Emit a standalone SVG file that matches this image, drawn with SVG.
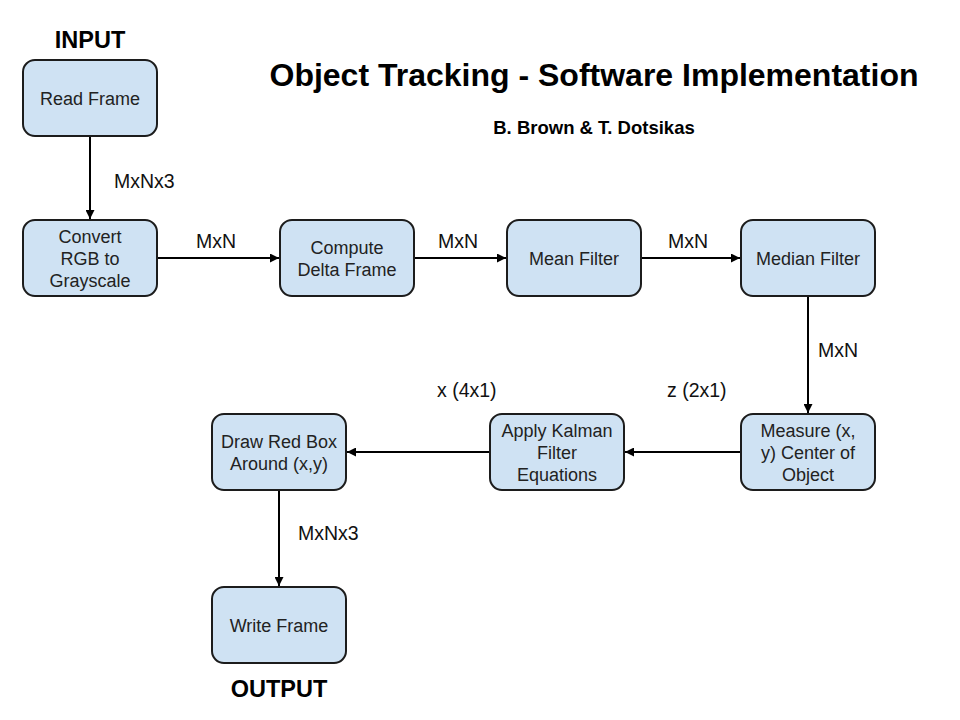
<svg xmlns="http://www.w3.org/2000/svg" width="960" height="720" viewBox="0 0 960 720">
<style>
.node rect{fill:#cfe2f3;stroke:#1c1c1c;stroke-width:2}
.node text{font-family:"Liberation Sans",Arial,sans-serif;font-size:18px;fill:#222;text-anchor:middle}
.lbl{font-family:"Liberation Sans",Arial,sans-serif;font-size:19.5px;fill:#111}
.hd{font-family:"Liberation Sans",Arial,sans-serif;font-weight:bold;fill:#000;text-anchor:middle}
.conn line{stroke:#000;stroke-width:2;marker-end:url(#ah)}
</style>
<defs>
<marker id="ah" viewBox="0 0 10 10" refX="10" refY="5" markerWidth="9" markerHeight="9" markerUnits="userSpaceOnUse" orient="auto">
<path d="M0,0 L10,5 L0,10 z" fill="#000"/>
</marker>
</defs>
<rect width="960" height="720" fill="#fff"/>
<text class="hd" x="90" y="48" font-size="23.5">INPUT</text>
<text class="hd" x="279" y="697" font-size="23.5">OUTPUT</text>
<text class="hd" x="594" y="86" font-size="32">Object Tracking - Software Implementation</text>
<text class="hd" x="594" y="134" font-size="18.5">B. Brown &amp; T. Dotsikas</text>

<g class="conn">
<line x1="90" y1="137" x2="90" y2="219"/>
<line x1="158" y1="258" x2="279" y2="258"/>
<line x1="415" y1="258" x2="506" y2="258"/>
<line x1="642" y1="258" x2="740" y2="258"/>
<line x1="808" y1="297" x2="808" y2="413"/>
<line x1="740" y1="452" x2="625" y2="452"/>
<line x1="489" y1="452" x2="347" y2="452"/>
<line x1="279" y1="491" x2="279" y2="586"/>
</g>
<g id="labels">
<text class="lbl" x="114" y="188">MxNx3</text>
<text class="lbl" x="196" y="248">MxN</text>
<text class="lbl" x="438" y="248">MxN</text>
<text class="lbl" x="668" y="248">MxN</text>
<text class="lbl" x="818" y="357">MxN</text>
<text class="lbl" x="667" y="397">z (2x1)</text>
<text class="lbl" x="437" y="397">x (4x1)</text>
<text class="lbl" x="298" y="540">MxNx3</text>
</g>

<g id="read" class="node"><rect x="23" y="60" width="134" height="76" rx="12"/><text x="90" y="105">Read Frame</text></g>
<g id="convert" class="node"><rect x="23" y="220" width="134" height="76" rx="12"/><text x="90" y="243">Convert</text><text x="90" y="265">RGB to</text><text x="90" y="287">Grayscale</text></g>
<g id="delta" class="node"><rect x="280" y="220" width="134" height="76" rx="12"/><text x="347" y="254">Compute</text><text x="347" y="276">Delta Frame</text></g>
<g id="mean" class="node"><rect x="507" y="220" width="134" height="76" rx="12"/><text x="574" y="265">Mean Filter</text></g>
<g id="median" class="node"><rect x="741" y="220" width="134" height="76" rx="12"/><text x="808" y="265">Median Filter</text></g>
<g id="measure" class="node"><rect x="741" y="414" width="134" height="76" rx="12"/><text x="808" y="437">Measure (x,</text><text x="808" y="459">y) Center of</text><text x="808" y="481">Object</text></g>
<g id="kalman" class="node"><rect x="490" y="414" width="134" height="76" rx="12"/><text x="557" y="437">Apply Kalman</text><text x="557" y="459">Filter</text><text x="557" y="481">Equations</text></g>
<g id="draw" class="node"><rect x="212" y="414" width="134" height="76" rx="12"/><text x="279" y="448">Draw Red Box</text><text x="279" y="470">Around (x,y)</text></g>
<g id="write" class="node"><rect x="212" y="587" width="134" height="76" rx="12"/><text x="279" y="632">Write Frame</text></g>
</svg>
